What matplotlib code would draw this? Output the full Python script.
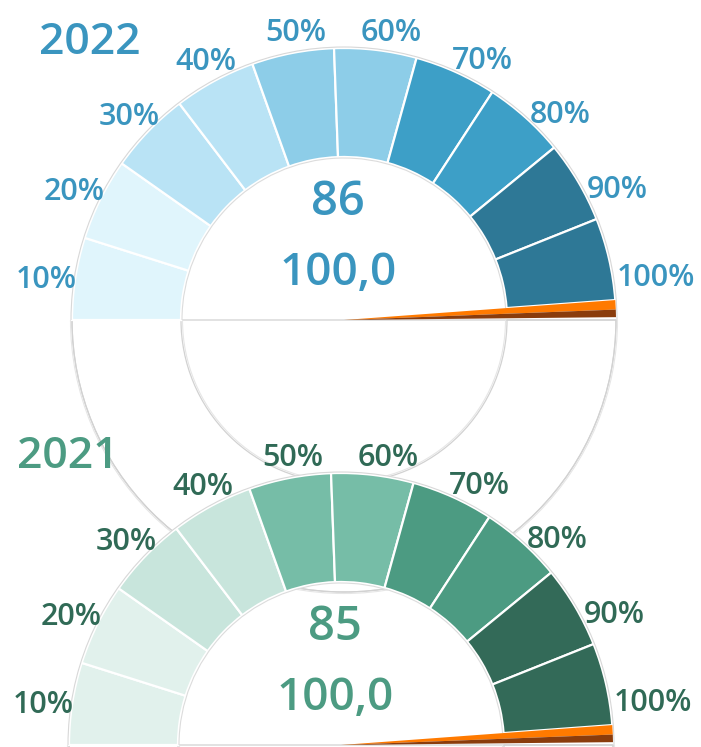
"""Two half-donut gauges (2022 / 2021) stacked on one canvas."""

import matplotlib.pyplot as plt
import numpy as np
from matplotlib.patches import Wedge, Polygon, Arc

W, H = 701, 747

levels = ["10%", "20%", "30%", "40%", "50%", "60%", "70%", "80%", "90%", "100%"]
years = ["2022", "2021"]
scores = ["86", "85"]
targets = ["100,0", "100,0"]

blue_colors = ["#e0f5fc", "#e0f5fc", "#b9e3f5", "#b9e3f5", "#8dcde8",
               "#8dcde8", "#3d9fc7", "#3d9fc7", "#2e7896", "#2e7896"]
green_colors = ["#e1f1ec", "#e1f1ec", "#c8e5dc", "#c8e5dc", "#76bda7",
                "#76bda7", "#4c9b82", "#4c9b82", "#336a58", "#336a58"]

FONT = "Open Sans"
WEIGHT = "semibold"
R_OUT, R_IN = 272, 163
ARC_END = 4.2          # where the coloured ring stops (deg)
NEEDLE = (0.6, 2.2, 4.2)  # bottom / split / top angle of the needle wedge


def polar(cx, cy, r, deg):
    t = np.radians(deg)
    return cx + r * np.cos(t), cy + r * np.sin(t)


def draw_gauge(ax, cx, cy, colors, lab_color, title_color, year, score, target,
               title_xy, z):
    # hidden lower half, only its faint outline shows
    ax.add_patch(Wedge((cx, cy), R_OUT, 180, 360, fill=False, ec="#d2d2d2",
                       lw=0.9, zorder=z))
    ax.add_patch(Wedge((cx, cy), R_OUT, 180, 360, width=R_OUT - R_IN, fill=False,
                       ec="#d2d2d2", lw=0.9, zorder=z))
    ax.add_patch(Arc((cx, cy), 2 * R_OUT + 3, 2 * R_OUT + 3, theta1=180, theta2=360,
                     ec="#e6e6e6", lw=0.8, zorder=z))
    ax.add_patch(Arc((cx, cy), 2 * R_IN - 3, 2 * R_IN - 3, theta1=180, theta2=360,
                     ec="#e6e6e6", lw=0.8, zorder=z))

    step = (180 - ARC_END) / len(levels)
    for i, col in enumerate(colors):
        a2 = 180 - i * step
        a1 = a2 - step
        ax.add_patch(Wedge((cx, cy), R_OUT, a1, a2, width=R_OUT - R_IN, fc=col,
                           ec="white", lw=1.6, zorder=z + 1))
    ax.add_patch(Arc((cx, cy), 2 * R_OUT + 2, 2 * R_OUT + 2, theta1=0, theta2=180,
                     ec="#d8d8d8", lw=0.8, zorder=z + 1))
    ax.add_patch(Arc((cx, cy), 2 * R_IN - 2, 2 * R_IN - 2, theta1=ARC_END, theta2=180,
                     ec="#dcdcdc", lw=0.8, zorder=z + 1))

    # needle: orange upper face, dark lower face
    lo, mid, hi = NEEDLE
    ax.add_patch(Polygon([(cx, cy), polar(cx, cy, R_OUT, mid), polar(cx, cy, R_OUT, hi)],
                         closed=True, fc="#ff7a00", ec="none", zorder=z + 2))
    ax.add_patch(Polygon([(cx, cy), polar(cx, cy, R_OUT, lo), polar(cx, cy, R_OUT, mid)],
                         closed=True, fc="#8a3c0c", ec="none", zorder=z + 2))

    # outside labels: box hugs the ring, a bit more room vertically
    lab_angles = np.linspace(171.5, 9.0, len(levels))
    for lab, ang in zip(levels, lab_angles):
        t = np.radians(ang)
        w = 19 * len(lab) + 2
        h = 28
        gx = 5 if np.cos(t) > 0 else 0
        x = cx + (R_OUT + gx) * np.cos(t) + w / 2 * np.cos(t)
        y = cy + (R_OUT + 8) * np.sin(t) + h / 2 * np.sin(t)
        ax.text(x, y, lab, ha="center", va="center_baseline", fontsize=22,
                color=lab_color, family=FONT, fontweight=WEIGHT, zorder=z + 3)

    ax.text(cx - 6, cy + 123, score, ha="center", va="center_baseline", fontsize=34,
            color=title_color, family=FONT, fontweight=WEIGHT, zorder=z + 3)
    ax.text(cx - 6, cy + 52, target, ha="center", va="center_baseline", fontsize=33,
            color=title_color, family=FONT, fontweight=WEIGHT, zorder=z + 3)
    ax.text(title_xy[0], title_xy[1], year, ha="center", va="center_baseline",
            fontsize=32, color=title_color, family=FONT, fontweight=WEIGHT,
            zorder=z + 3)


fig = plt.figure(figsize=(W / 100, H / 100), dpi=100)
ax = fig.add_axes([0, 0, 1, 1])
ax.set_xlim(0, W)
ax.set_ylim(0, H)
ax.set_aspect("equal")
ax.axis("off")

draw_gauge(ax, 344, H - 320, blue_colors, "#3a95bf", "#3a95bf", years[0],
           scores[0], targets[0], (90, H - 38), z=1)
draw_gauge(ax, 341, H - 745, green_colors, "#306a56", "#4c9b82", years[1],
           scores[1], targets[1], (68, H - 452), z=10)

fig.savefig("out.png", dpi=100)
